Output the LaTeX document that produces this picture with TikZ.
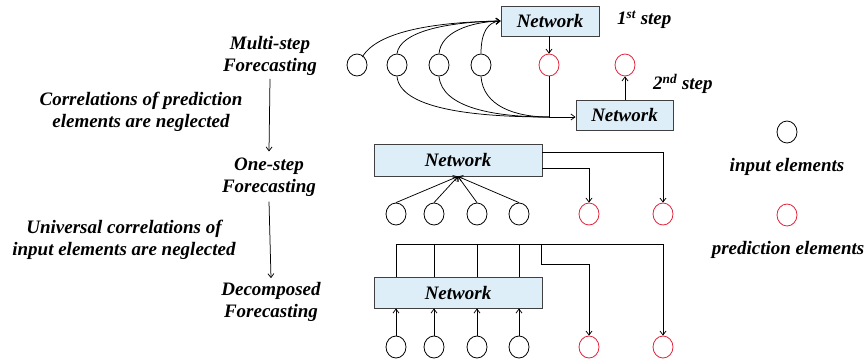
\documentclass[tikz,border=0pt]{standalone}
\usepackage{fontspec}
\setmainfont{Liberation Serif}
\usetikzlibrary{arrows.meta,shapes.geometric}
\definecolor{netblue}{RGB}{222,238,248}
\definecolor{predred}{RGB}{226,34,58}
\begin{document}
\begin{tikzpicture}[x=1pt,y=-1pt,
  lbl/.style={font=\fontsize{19}{22}\selectfont\bfseries\itshape, align=center, inner sep=2pt},
  net/.style={draw=black!75, fill=netblue, line width=0.9pt, inner sep=0pt,
    font=\fontsize{19}{22}\selectfont\bfseries\itshape},
  inel/.style={ellipse, draw=black, line width=0.8pt, minimum width=20pt, minimum height=22pt, inner sep=0pt},
  predel/.style={inel, draw=predred},
  arr/.style={-{Straight Barb[length=4pt,width=6pt]}, line width=0.75pt},
  ln/.style={line width=0.75pt}]
\useasboundingbox (0,0) rectangle (868,360);

% ---- left column: the three forecasting schemes ----
\node[lbl] (ms) at (270,56) {Multi-step\\Forecasting};
\node[lbl] (cp) at (141,112) {Correlations of prediction\\elements are neglected};
\node[lbl] (os) at (269,177) {One-step\\Forecasting};
\node[lbl] (uc) at (124,240) {Universal correlations of\\input elements are neglected};
\node[lbl] (dc) at (271,302) {Decomposed\\Forecasting};
\draw[arr] ([yshift=-1pt]ms.south) -- ([yshift=4pt]os.north);
\draw[arr] ([yshift=-3pt]os.south) -- ([yshift=2pt]dc.north);

% ---- multi-step forecasting ----
\node[net, minimum width=98pt, minimum height=30pt] (net1) at (550,21) {Network};
\node[net, minimum width=97pt, minimum height=30pt] (net2) at (624.5,115) {Network};
\node[lbl, anchor=west] (s1) at (615,20) {1\textsuperscript{st} step};
\node[lbl, anchor=west] (s2) at (651,84) {2\textsuperscript{nd} step};

\node[inel] (a1) at (357,65) {};
\node[inel] (a2) at (397,65) {};
\node[inel] (a3) at (439,65) {};
\node[inel] (a4) at (481,65) {};
\node[predel] (p1) at (549,65) {};
\node[predel] (p2) at (625,65) {};

\draw[arr] ([xshift=-2pt]a1.north east) .. controls (378,30) and (440,22) .. (net1.west);
\draw[arr] (a2.north) .. controls (400,32) and (445,22) .. (net1.west);
\draw[arr] (a3.north) .. controls (441,32) and (470,22) .. (net1.west);
\draw[arr] (a4.north) .. controls (481,32) and (488,22) .. (net1.west);
\draw[arr] (net1.south -| p1) -- (p1.north);

\coordinate (j1) at (549,117);
\draw[ln] (a2.south) .. controls (400,108) and (470,117) .. (j1);
\draw[ln] (a3.south) .. controls (442,108) and (495,117) .. (j1);
\draw[ln] (a4.south) .. controls (483,106) and (515,117) .. (j1);
\draw[ln] (p1.south) -- (j1);
\draw[arr] (j1) -- (net2.west |- j1);
\draw[arr] (net2.north -| p2) -- (p2.south);

% ---- one-step forecasting ----
\node[net, minimum width=168pt, minimum height=32pt] (net3) at (458,160) {Network};
\node[inel] (b1) at (396,214) {};
\node[inel] (b2) at (434,214) {};
\node[inel] (b3) at (477,214) {};
\node[inel] (b4) at (519,214) {};
\node[predel] (q1) at (589,214) {};
\node[predel] (q2) at (663,214) {};
\foreach \c in {b1,b2,b3,b4} \draw[arr] (\c.north) -- (net3.south);
\draw[arr] ([yshift=8pt]net3.east) -| (q2.north);
\draw[arr] ([yshift=-8pt]net3.east) -| (q1.north);

% ---- decomposed forecasting ----
\node[net, minimum width=168pt, minimum height=31pt] (net4) at (458,292.5) {Network};
\node[inel] (d1) at (396,347) {};
\node[inel] (d2) at (434,347) {};
\node[inel] (d3) at (477,347) {};
\node[inel] (d4) at (519,347) {};
\node[predel] (r1) at (589,347) {};
\node[predel] (r2) at (663,347) {};
\foreach \c in {d1,d2,d3,d4} {
  \draw[arr] (\c.north) -- (\c |- net4.south);
  \draw[ln] (\c |- net4.north) -- (\c |- 0,244);
}
\coordinate (busL) at (396,244);
\coordinate (tap) at (541,244);
\coordinate (bend) at (541,264);
\draw[ln] (busL) -- (r2 |- busL);
\draw[arr] (r2 |- busL) -- (r2.north);
\draw[arr] (tap) -- (bend) -| (r1.north);

% ---- legend ----
\node[inel] (li) at (787,132) {};
\node[lbl] (lit) at (787,167) {input elements};
\node[predel] (lp) at (787,215) {};
\node[lbl] (lpt) at (788,250) {prediction elements};
\end{tikzpicture}
\end{document}
